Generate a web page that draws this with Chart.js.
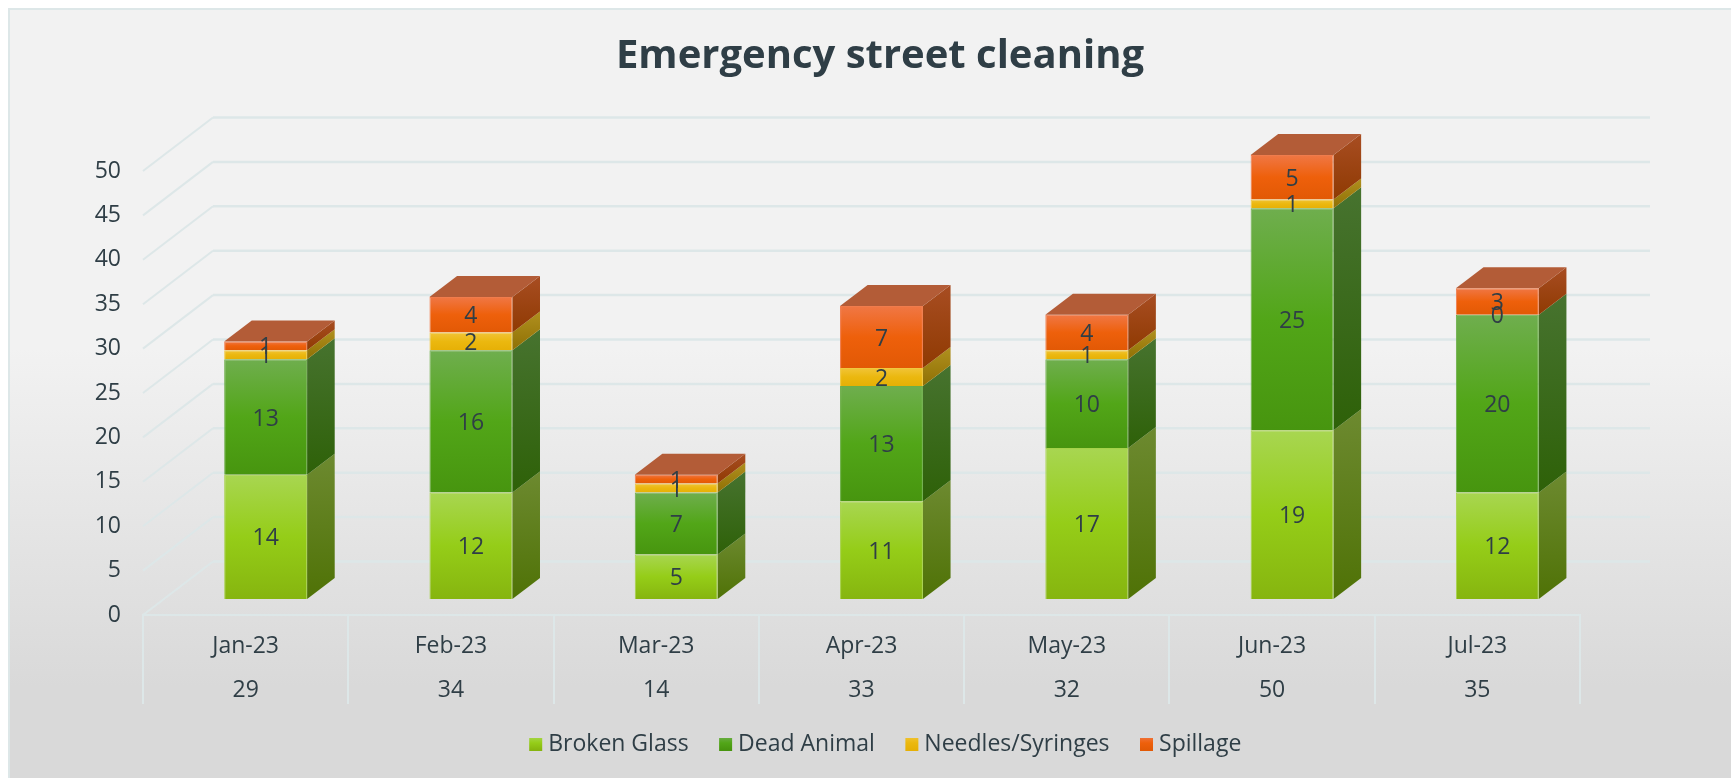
<!DOCTYPE html>
<html lang="en">
<head>
    <meta charset="UTF-8">
    <title>Emergency street cleaning</title>
    <script src="https://cdn.jsdelivr.net/npm/chart.js"></script>
    <style>
        html, body { margin: 0; background: #fff; }
        #frame {
            position: absolute;
            left: 8px; top: 8px; width: 1723px; height: 770px;
            box-sizing: border-box;
            border: solid #dde7e8; border-width: 2px 0 0 2px;
            background: linear-gradient(180deg, #f2f2f2 0%, #f2f2f2 44%, #d9d9d9 88%, #d9d9d9 100%);
        }
        canvas { position: absolute; left: 0; top: 0; }
    </style>
</head>
<body>
    <div id="frame"></div>
    <canvas id="chart" width="1731" height="778"></canvas>

    <script>
        const months = ["Jan-23", "Feb-23", "Mar-23", "Apr-23", "May-23", "Jun-23", "Jul-23"];
        const totals = ["29", "34", "14", "33", "32", "50", "35"];
        const brokenGlass = [14, 12, 5, 11, 17, 19, 12];
        const deadAnimal = [13, 16, 7, 13, 10, 25, 20];
        const needles = [1, 2, 1, 2, 1, 1, 0];
        const spillage = [1, 4, 1, 7, 4, 5, 3];

        const TEXT = "#2f3e46";
        const GRID = "#dde7e8";
        const FONT = "'Open Sans'";

        // depth of the floor, and where the bars sit inside it
        const DEPTH_X = 70, DEPTH_Y = 53.5;
        const BAR_X = 20, BAR_Y = 16;
        const SIDE_X = 27.6, SIDE_Y = 21;

        // front face stops top/mid/bottom, then side face top/bottom, then the lid
        const series = [
            { label: "Broken Glass", data: brokenGlass, edge: "#a6d24a", front: ["#a8d651", "#95cd18", "#86b50f"], side: ["#6d8a30", "#4f7206"] },
            { label: "Dead Animal", data: deadAnimal, edge: "#6cae48", front: ["#6fae4e", "#52a618", "#47950f"], side: ["#47732f", "#2e6108"] },
            { label: "Needles/Syringes", data: needles, edge: "#f0c83f", front: ["#f1c437", "#ebb80f", "#e6b006"], side: ["#b0901f", "#8f7004"] },
            { label: "Spillage", data: spillage, edge: "#f07c4c", front: ["#f07745", "#ee600b", "#e25905"], side: ["#a84d22", "#8f3a02"], lid: "#b35c37" }
        ];

        function faceGradient(ctx, top, bottom, stops) {
            if (!isFinite(top) || !isFinite(bottom)) return stops[1]; // scales not laid out yet
            const g = ctx.createLinearGradient(0, top, 0, bottom);
            stops.forEach((c, i) => g.addColorStop(i / (stops.length - 1), c));
            return g;
        }

        const walls = {
            id: "walls",
            afterLayout(chart) {
                // title and legend are centred right of the plot, not on it
                chart.titleBlock.left += 90;
                chart.titleBlock.right += 90;
                chart.legend.left += 98;
                chart.legend.right += 98;
                // tick labels get clipped to the scale box, the second row needs room
                chart.scales.x.bottom += 40;
            },
            beforeDraw(chart) {
                const legend = chart.legend;
                legend.legendItems.forEach((item, i) => {
                    const mid = legend.bottom - legend.options.labels.font.size;
                    item.fillStyle = faceGradient(chart.ctx, mid - 7, mid + 7, series[i].front);
                    item.lineWidth = 0;
                });
            },
            beforeDatasetsDraw(chart) {
                const { ctx, scales: { y }, chartArea: area } = chart;
                ctx.save();
                ctx.strokeStyle = GRID;
                y.ticks.forEach(t => {
                    const py = y.getPixelForValue(t.value);
                    ctx.lineWidth = 2;
                    ctx.beginPath();
                    ctx.moveTo(area.left, py);
                    ctx.lineTo(area.left + DEPTH_X, py - DEPTH_Y);
                    ctx.stroke();
                    ctx.lineWidth = 2.5;
                    ctx.beginPath();
                    ctx.moveTo(area.left + DEPTH_X, py - DEPTH_Y);
                    ctx.lineTo(area.right + DEPTH_X, py - DEPTH_Y);
                    ctx.stroke();
                });
                // side faces go behind the fronts, lids on the top segment only
                ctx.translate(BAR_X, -BAR_Y);
                chart.data.datasets.forEach((ds, d) => {
                    chart.getDatasetMeta(d).data.forEach((bar, i) => {
                        if (!ds.data[i]) return;
                        const r = bar.x + bar.width / 2;
                        ctx.fillStyle = faceGradient(ctx, bar.y - SIDE_Y, bar.base, series[d].side);
                        ctx.beginPath();
                        ctx.moveTo(r, bar.base);
                        ctx.lineTo(r, bar.y);
                        ctx.lineTo(r + SIDE_X, bar.y - SIDE_Y);
                        ctx.lineTo(r + SIDE_X, bar.base - SIDE_Y);
                        ctx.closePath();
                        ctx.fill();
                        if (series[d].lid) {
                            const l = bar.x - bar.width / 2;
                            ctx.fillStyle = series[d].lid;
                            ctx.beginPath();
                            ctx.moveTo(l, bar.y);
                            ctx.lineTo(r, bar.y);
                            ctx.lineTo(r + SIDE_X, bar.y - SIDE_Y);
                            ctx.lineTo(l + SIDE_X, bar.y - SIDE_Y);
                            ctx.closePath();
                            ctx.fill();
                        }
                    });
                });
                ctx.restore();
                ctx.save();
                ctx.translate(BAR_X, -BAR_Y);
            },
            afterDatasetsDraw(chart) {
                const { ctx } = chart;
                ctx.fillStyle = TEXT;
                ctx.font = "23px " + FONT;
                ctx.textAlign = "center";
                ctx.textBaseline = "middle";
                chart.data.datasets.forEach((ds, d) => {
                    chart.getDatasetMeta(d).data.forEach((bar, i) => {
                        ctx.fillText(ds.data[i], bar.x, (bar.y + bar.base) / 2 + 2);
                    });
                });
                ctx.restore();
            }
        };

        new Chart(document.getElementById("chart"), {
            type: "bar",
            data: {
                labels: months.map((m, i) => [m, totals[i]]),
                datasets: series.map(s => ({
                    label: s.label,
                    data: s.data,
                    clip: false,
                    borderWidth: 1,
                    borderColor: s.edge,
                    backgroundColor(c) {
                        if (c.type !== "data") return s.front[1];
                        const yScale = c.chart.scales.y;
                        const all = c.chart.data.datasets;
                        let below = 0;
                        for (let d = 0; d < c.datasetIndex; d++) below += all[d].data[c.dataIndex];
                        return faceGradient(c.chart.ctx,
                            yScale.getPixelForValue(below + s.data[c.dataIndex]),
                            yScale.getPixelForValue(below), s.front);
                    }
                }))
            },
            plugins: [walls],
            options: {
                responsive: false,
                animation: false,
                events: [],
                barPercentage: 0.404,
                categoryPercentage: 1,
                layout: { padding: { top: 14, right: 151, bottom: 12, left: 0 } },
                scales: {
                    x: {
                        stacked: true,
                        afterFit(scale) { scale.height = 82; },
                        border: { color: GRID, width: 2 },
                        grid: { offset: true, drawOnChartArea: false, color: GRID, lineWidth: 2, tickLength: 89 },
                        ticks: {
                            color: TEXT,
                            padding: -80,
                            maxRotation: 0,
                            font: { family: FONT, size: 23, lineHeight: 1.92 }
                        }
                    },
                    y: {
                        stacked: true,
                        min: 0,
                        max: 50,
                        afterFit(scale) { scale.width = 143; },
                        border: { display: false },
                        grid: { display: false },
                        ticks: {
                            stepSize: 5,
                            color: TEXT,
                            padding: 14,
                            font: { family: FONT, size: 23 }
                        }
                    }
                },
                plugins: {
                    tooltip: { enabled: false },
                    title: {
                        display: true,
                        text: "Emergency street cleaning",
                        color: TEXT,
                        font: { family: FONT, size: 40, weight: "bold" },
                        padding: { top: 19, bottom: 90 }
                    },
                    legend: {
                        position: "bottom",
                        labels: {
                            color: TEXT,
                            font: { family: FONT, size: 23 },
                            usePointStyle: true,
                            pointStyle: "rect",
                            boxWidth: 2,
                            boxHeight: 13,
                            padding: 36
                        }
                    }
                }
            }
        });
    </script>
</body>
</html>
